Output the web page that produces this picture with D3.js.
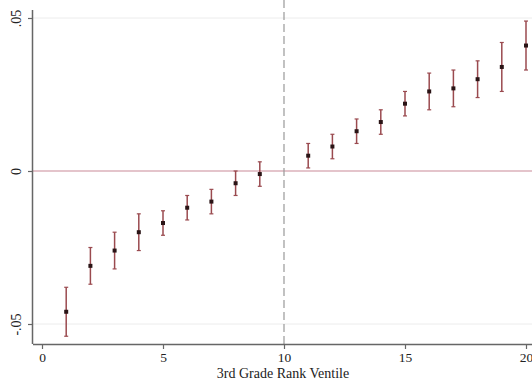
<!DOCTYPE html>
<html><head><meta charset="utf-8">
<script src="https://cdn.jsdelivr.net/npm/d3@7"></script>
<style>body{margin:0;background:#fff}svg{display:block}</style>
</head><body>
<svg id="c" width="532" height="382"></svg>
<script>
const ventiles = [1,2,3,4,5,6,7,8,9,11,12,13,14,15,16,17,18,19,20];
const estimates = [-0.046,-0.031,-0.026,-0.020,-0.017,-0.012,-0.010,-0.004,-0.001,0.005,0.008,0.013,0.016,0.022,0.026,0.027,0.030,0.034,0.041];
const ciLow = [-0.054,-0.037,-0.032,-0.026,-0.021,-0.016,-0.014,-0.008,-0.005,0.001,0.004,0.009,0.012,0.018,0.020,0.021,0.024,0.026,0.033];
const ciHigh = [-0.038,-0.025,-0.020,-0.014,-0.013,-0.008,-0.006,0.000,0.003,0.009,0.012,0.017,0.020,0.026,0.032,0.033,0.036,0.042,0.049];
const xTicks = [0,5,10,15,20];
const yTicks = [-0.05,0,0.05];
const yTickLabels = ["-.05","0",".05"];
const xTitle = "3rd Grade Rank Ventile";

const svg = d3.select("#c");
const x = d3.scaleLinear().domain([0,20]).range([42,526]);
const y = d3.scaleLinear().domain([-0.05,0.05]).range([324,18]);
const pLeft = 33, pBottom = 344, pTop = 10, pRight = 532;
const font = "'Liberation Serif', 'Times New Roman', serif";

svg.selectAll(".grid").data([-0.05,0.05]).join("line")
  .attr("x1", pLeft).attr("x2", pRight)
  .attr("y1", d=>y(d)).attr("y2", d=>y(d))
  .attr("stroke", "#ececec").attr("stroke-width", 1);

svg.append("line").attr("x1", pLeft).attr("x2", pRight)
  .attr("y1", y(0)).attr("y2", y(0))
  .attr("stroke", "#c98a98").attr("stroke-width", 1.2);

svg.append("line").attr("x1", x(10)).attr("x2", x(10))
  .attr("y1", 0).attr("y2", pBottom)
  .attr("stroke", "#999").attr("stroke-width", 1.2)
  .attr("stroke-dasharray", "8,4");

const xAxis = d3.axisBottom(x).tickValues(xTicks).tickSize(5).tickPadding(3).tickFormat(d3.format("d"));
const gx = svg.append("g").attr("transform", `translate(0,${pBottom})`).call(xAxis);
gx.select(".domain").attr("d", `M${pLeft},0.5H${pRight}`).attr("stroke", "#666").attr("stroke-width", 1.5);
gx.selectAll(".tick line").attr("stroke", "#666").attr("stroke-width", 1.2);
gx.selectAll(".tick text").attr("font-family", font).attr("font-size", 13.5).attr("fill", "#222");

const yAxis = d3.axisLeft(y).tickValues(yTicks).tickSize(5).tickFormat((d,i)=>yTickLabels[i]);
const gy = svg.append("g").attr("transform", `translate(${pLeft},0)`).call(yAxis);
gy.select(".domain").attr("d", `M-0.5,${pTop}V${pBottom}`).attr("stroke", "#666").attr("stroke-width", 1.5);
gy.selectAll(".tick line").attr("stroke", "#666").attr("stroke-width", 1.2);
gy.selectAll(".tick text")
  .attr("font-family", font).attr("font-size", 14).attr("fill", "#222")
  .attr("x", null).attr("dy", "0.32em")
  .attr("text-anchor", "middle")
  .attr("transform", "translate(-16,0) rotate(-90)");

svg.append("text").attr("x", x(10) - 1).attr("y", 378)
  .attr("text-anchor", "middle").attr("font-family", font).attr("font-size", 14).attr("fill", "#222")
  .text(xTitle);

const data = ventiles.map((v,i)=>({v, e:estimates[i], lo:ciLow[i], hi:ciHigh[i]}));
const g = svg.append("g");
const barColor = "#9a4a4f";
g.selectAll(".bar").data(data).join("line")
  .attr("x1", d=>x(d.v)).attr("x2", d=>x(d.v))
  .attr("y1", d=>y(d.lo)).attr("y2", d=>y(d.hi))
  .attr("stroke", barColor).attr("stroke-width", 1.5);
g.selectAll(".capT").data(data).join("line")
  .attr("x1", d=>x(d.v)-2).attr("x2", d=>x(d.v)+2)
  .attr("y1", d=>y(d.hi)).attr("y2", d=>y(d.hi))
  .attr("stroke", barColor).attr("stroke-width", 1.2);
g.selectAll(".capB").data(data).join("line")
  .attr("x1", d=>x(d.v)-2).attr("x2", d=>x(d.v)+2)
  .attr("y1", d=>y(d.lo)).attr("y2", d=>y(d.lo))
  .attr("stroke", barColor).attr("stroke-width", 1.2);
g.selectAll(".pt").data(data).join("rect")
  .attr("x", d=>x(d.v)-2).attr("y", d=>y(d.e)-2)
  .attr("width", 4).attr("height", 4)
  .attr("fill", "#2a1416");
</script>
</body></html>
